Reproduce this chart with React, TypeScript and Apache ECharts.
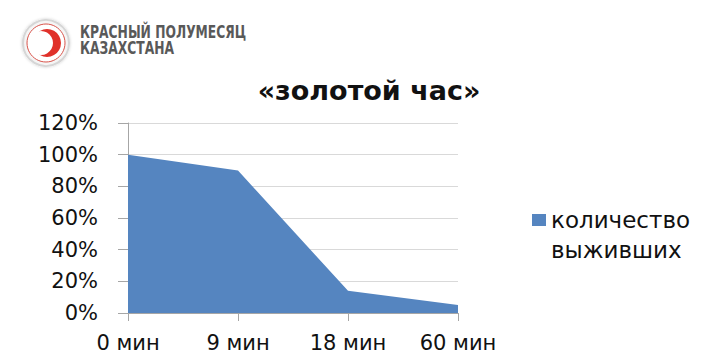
import React, { useEffect, useRef } from "react";
import * as echarts from "echarts";

const categories = ["0 мин", "9 мин", "18 мин", "60 мин"];
const survivors = [100, 90, 14, 5];
const seriesName = "количество выживших";
const yTicks = [0, 20, 40, 60, 80, 100, 120];
const titleText = "«золотой час»";
const logoLines = ["КРАСНЫЙ ПОЛУМЕСЯЦ", "КАЗАХСТАНА"];

const FONT = '"DejaVu Sans", sans-serif';

export default function App() {
  const ref = useRef<HTMLDivElement>(null);
  useEffect(() => {
    if (!ref.current) return;
    const chart = echarts.init(ref.current, null, { renderer: "svg" });
    chart.setOption({
      animation: false,
      backgroundColor: "#ffffff",
      title: {
        text: titleText,
        left: 364,
        textAlign: "center",
        top: 72,
        textStyle: { fontFamily: FONT, fontSize: 27, fontWeight: "bold", color: "#111" },
      },
      grid: { left: 128, right: 247, top: 123, bottom: 49 },
      legend: {
        left: 527,
        top: 170,
        itemWidth: 14,
        itemHeight: 12,
        itemGap: 10,
        icon: "rect",
        formatter: () => "\nколичество\nвыживших",
        textStyle: { fontFamily: FONT, fontSize: 23, color: "#111", lineHeight: 30 },
        data: [seriesName],
      },
      xAxis: {
        type: "category",
        data: categories,
        boundaryGap: false,
        axisLine: { lineStyle: { color: "#a6a6a6", width: 1 } },
        axisTick: { show: true, length: 8, alignWithLabel: true, lineStyle: { color: "#a6a6a6" } },
        axisLabel: { fontFamily: FONT, fontSize: 21, color: "#111", margin: 19 },
        splitLine: { show: false },
      },
      yAxis: {
        type: "value",
        min: 0,
        max: yTicks[yTicks.length - 1],
        interval: 20,
        axisLine: { show: true, lineStyle: { color: "#a6a6a6", width: 1 } },
        axisTick: { show: true, length: 10, lineStyle: { color: "#a6a6a6" } },
        axisLabel: {
          fontFamily: FONT,
          fontSize: 21,
          color: "#111",
          margin: 30,
          formatter: (v: number) => `${v}%`,
        },
        splitLine: { show: true, lineStyle: { color: "#d9d9d9", width: 1 } },
      },
      series: [
        {
          name: seriesName,
          type: "line",
          data: survivors,
          symbol: "none",
          itemStyle: { color: "#5585c0" },
          lineStyle: { width: 0, color: "#5585c0" },
          areaStyle: { color: "#5585c0", opacity: 1, origin: "start" },
        },
      ],
      graphic: [
        {
          type: "circle",
          shape: { cx: 46, cy: 43, r: 23 },
          style: { fill: "#f5f5f5", stroke: "#d6d6d6", lineWidth: 2, shadowBlur: 3, shadowColor: "rgba(0,0,0,0.2)" },
        },
        {
          type: "circle",
          shape: { cx: 46, cy: 43, r: 19 },
          style: { fill: "#ffffff", stroke: "#d9534a", lineWidth: 1 },
        },
        {
          type: "circle",
          shape: { cx: 47, cy: 43, r: 14 },
          style: { fill: "#e0312a" },
        },
        {
          type: "circle",
          shape: { cx: 41, cy: 43, r: 12 },
          style: { fill: "#ffffff" },
        },
        {
          type: "text",
          x: 80,
          y: 24,
          scaleX: 0.76,
          style: {
            text: logoLines.join("\n"),
            fontFamily: '"DejaVu Sans Condensed", "DejaVu Sans", sans-serif',
            fontWeight: "bold",
            fontSize: 18,
            lineHeight: 16,
            fill: "#595959",
          },
        },
      ],
    });
    return () => chart.dispose();
  }, []);
  return (
    <div
      ref={ref}
      style={{ position: "fixed", left: 0, top: 0, width: 705, height: 362 }}
    />
  );
}
